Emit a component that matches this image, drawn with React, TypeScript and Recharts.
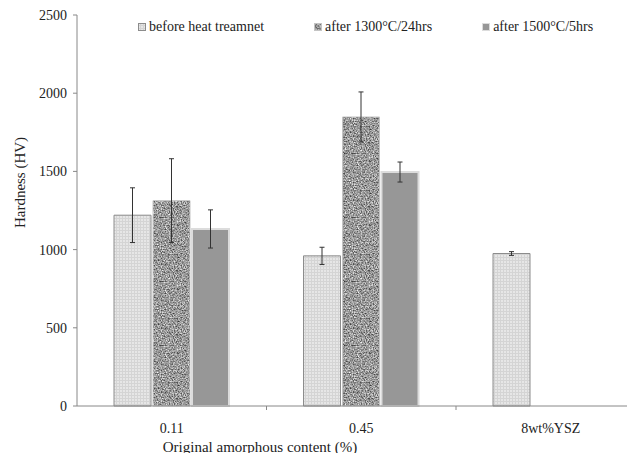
import React from 'react';
import { BarChart, Bar, XAxis, YAxis, ErrorBar, Label } from 'recharts';

const categories = ['0.11', '0.45', '8wt%YSZ'];
const beforeHeat = [1220, 960, 975];
const beforeHeatErr = [175, 55, 12];
const after1300 = [1313, 1848, null];
const after1300Err = [268, 160, null];
const after1500 = [1132, 1496, null];
const after1500Err = [122, 64, null];
const yTicks = [0, 500, 1000, 1500, 2000, 2500];

const FONT = '"Liberation Serif", "Times New Roman", serif';
const CHART_W = 660;
const CHART_H = 461;
const MARGIN = { top: 15, right: 14.5, left: 0, bottom: 0 };
const Y_AXIS_W = 77;
const X_AXIS_H = 55;
const BAND = (CHART_W - MARGIN.left - MARGIN.right - Y_AXIS_W) / categories.length;
const PLOT_BOTTOM = CHART_H - MARGIN.bottom - X_AXIS_H;

const series = [
  { key: 'before', errKey: 'beforeErr', name: 'before heat treamnet', fill: 'url(#patBefore)', stroke: '#8c8c8c', strokeWidth: 1 },
  { key: 'after1300', errKey: 'after1300Err', name: 'after 1300°C/24hrs', fill: 'url(#patSpeckle)', stroke: '#c4c4c4', strokeWidth: 1 },
  { key: 'after1500', errKey: 'after1500Err', name: 'after 1500°C/5hrs', fill: '#979797', stroke: '#dcdcdc', strokeWidth: 2 },
];

const data = categories.map((name, i) => ({
  name,
  before: beforeHeat[i],
  beforeErr: beforeHeatErr[i],
  after1300: after1300[i],
  after1300Err: after1300Err[i],
  after1500: after1500[i],
  after1500Err: after1500Err[i],
}));

// category label plus the small tick between categories
const XTick = (props: any) => {
  const { x, y, payload } = props;
  return (
    <g>
      <line x1={x + BAND / 2} x2={x + BAND / 2} y1={y} y2={y + 4} stroke="#888" />
      <text x={x} y={y + 27} textAnchor="middle" fontSize={14} fill="#222" fontFamily={FONT}>
        {payload.value}
      </text>
    </g>
  );
};

const yTitle = (props: any) => {
  const { viewBox } = props;
  const cx = viewBox.x + 20;
  const cy = viewBox.y + viewBox.height / 2 - 28;
  return (
    <text x={cx} y={cy} transform={`rotate(-90 ${cx} ${cy})`} textAnchor="middle"
      dominantBaseline="central" fontSize={15} fill="#222" fontFamily={FONT}>
      Hardness (HV)
    </text>
  );
};

const xTitle = () => (
  <text x={Y_AXIS_W + 183} y={PLOT_BOTTOM + 46} textAnchor="middle" fontSize={15} fill="#222" fontFamily={FONT}>
    Original amorphous content (%)
  </text>
);

const Patterns = () => (
  <svg width={0} height={0} style={{ position: 'absolute' }}>
    <defs>
      <filter id="speckle" x="0" y="0" width="100%" height="100%" colorInterpolationFilters="sRGB">
        <feTurbulence type="fractalNoise" baseFrequency="0.75" numOctaves={2} seed={7} />
        <feColorMatrix type="matrix" values="1 0 0 0 0  1 0 0 0 0  1 0 0 0 0  0 0 0 0 1" />
        <feComponentTransfer>
          <feFuncR type="linear" slope={1.1} intercept={0.05} />
          <feFuncG type="linear" slope={1.1} intercept={0.05} />
          <feFuncB type="linear" slope={1.1} intercept={0.05} />
        </feComponentTransfer>
      </filter>
      <pattern id="patSpeckle" width={64} height={64} patternUnits="userSpaceOnUse">
        <rect width={64} height={64} fill="#999" filter="url(#speckle)" />
      </pattern>
      <pattern id="patBefore" width={3} height={3} patternUnits="userSpaceOnUse">
        <rect width={3} height={3} fill="#e6e6e6" />
        <path d="M0 2.5H3M2.5 0V3" stroke="#d4d4d4" strokeWidth={1} />
      </pattern>
    </defs>
  </svg>
);

const App = () => {
  return (
    <div style={{ margin: -8, width: 635, height: 461, overflow: 'hidden', position: 'relative', fontFamily: FONT, background: '#fff' }}>
      <Patterns />
      <div style={{ position: 'absolute', left: 138, top: 19, display: 'flex', alignItems: 'center', fontSize: 14, lineHeight: '16px', color: '#222', whiteSpace: 'nowrap', zIndex: 1 }}>
        {series.map((s) => (
          <div key={s.key} style={{ display: 'flex', alignItems: 'center', marginRight: 50 }}>
            <svg width={8} height={8} style={{ marginRight: 3 }}>
              <rect x={0.5} y={0.5} width={7} height={7} fill={s.fill} stroke={s.stroke} strokeWidth={1} />
            </svg>
            <span>{s.name}</span>
          </div>
        ))}
      </div>
      <BarChart width={CHART_W} height={CHART_H} data={data} margin={MARGIN} barSize={37} barGap={2}>
        <XAxis dataKey="name" height={X_AXIS_H} interval={0} tickSize={0} tickMargin={0}
          axisLine={{ stroke: '#888' }} tickLine={false} tick={<XTick />}>
          <Label content={xTitle} />
        </XAxis>
        <YAxis width={Y_AXIS_W} domain={[0, 2500]} ticks={yTicks} tickSize={4} tickMargin={6}
          axisLine={{ stroke: '#888' }} tickLine={{ stroke: '#888' }}
          tick={{ fontSize: 14, fill: '#222', fontFamily: FONT }}>
          <Label content={yTitle} />
        </YAxis>
        {series.map((s) => (
          <Bar key={s.key} dataKey={s.key} name={s.name} fill={s.fill} stroke={s.stroke}
            strokeWidth={s.strokeWidth} isAnimationActive={false}>
            <ErrorBar dataKey={s.errKey} width={2.5} stroke="#333" strokeWidth={1} direction="y" />
          </Bar>
        ))}
      </BarChart>
    </div>
  );
};

export default App;
